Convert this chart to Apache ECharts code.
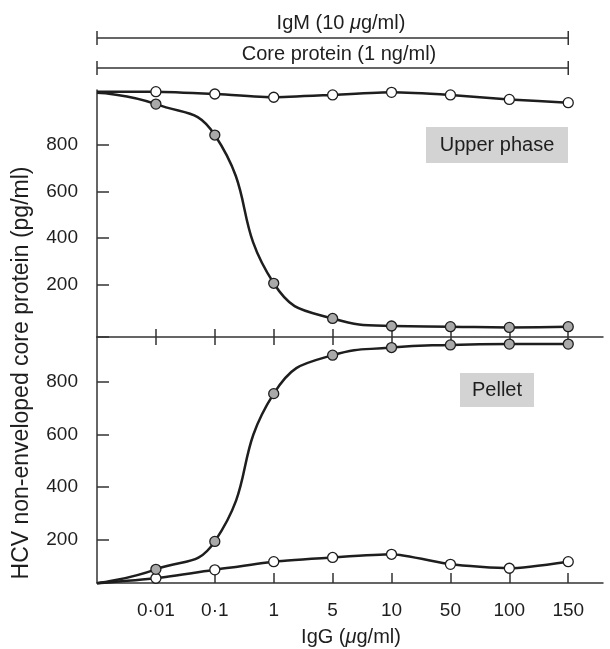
<!DOCTYPE html>
<html>
<head>
<meta charset="utf-8">
<script src="https://cdn.jsdelivr.net/npm/echarts@6/dist/echarts.min.js"></script>
<style>
  html, body { margin: 0; padding: 0; background: #fff; }
  #chart { width: 610px; height: 649px; }
</style>
</head>
<body>
<div id="chart"></div>
<script>
// IgG concentrations (first point = no IgG, unlabelled)
const categories = ['0', '0·01', '0·1', '1', '5', '10', '50', '100', '150'];
// upper phase (pg/ml)
const upperOpen = [1025, 1025, 1015, 1001, 1011, 1022, 1011, 992, 978];
const upperFilled = [1020, 972, 840, 208, 58, 26, 23, 20, 23];
// pellet (pg/ml)
const pelletFilled = [35, 88, 194, 755, 901, 930, 940, 943, 943];
const pelletOpen = [35, 54, 86, 117, 133, 145, 107, 92, 117];
const yTicks = [200, 400, 600, 800];
const xTicks = [1, 2, 3, 4, 5, 6, 7, 8];

const FONT = '"Liberation Sans", Arial, Helvetica, sans-serif';
const INK = '#1e1e1e';
const AXIS = '#333';

const chart = echarts.init(document.getElementById('chart'));

function pts(arr) {
    return arr.map(function (v, i) {
        if (i === 0) return { value: [i, v], symbol: 'none' };
        return [i, v];
    });
}

function mkSeries(arr, grid, filled, smooth) {
    return {
        type: 'line',
        xAxisIndex: grid === 0 ? 0 : 1,
        yAxisIndex: grid,
        data: pts(arr),
        smooth: smooth,
        clip: false,
        symbol: 'circle',
        symbolSize: 10,
        lineStyle: { color: INK, width: 2.5 },
        itemStyle: { color: filled ? '#a9a9a9' : '#ffffff', borderColor: INK, borderWidth: 1.3 },
        z: 3
    };
}

function xAxisOf(grid, pos, len, showLine) {
    return {
        type: 'value', min: 0, max: 8.59,
        gridIndex: grid, position: pos,
        splitLine: { show: false },
        axisLine: { show: showLine, onZero: false, lineStyle: { color: AXIS, width: 1.5 } },
        axisTick: { inside: true, length: len, customValues: xTicks, lineStyle: { color: AXIS, width: 1.5 } },
        axisLabel: { show: false }
    };
}

function yAxisOf(grid, min, max, tickVals) {
    return {
        type: 'value', gridIndex: grid, min: min, max: max,
        splitLine: { show: false },
        axisLine: { show: true, onZero: false, lineStyle: { color: AXIS, width: 1.5 } },
        axisTick: { inside: true, length: 12, customValues: tickVals, lineStyle: { color: AXIS, width: 1.5 } },
        axisLabel: { customValues: yTicks, fontSize: 19, fontFamily: FONT, color: INK, margin: 19 }
    };
}

const bottomAxis = xAxisOf(1, 'bottom', 10, true);
bottomAxis.axisLabel = {
    show: true, customValues: xTicks, fontSize: 19, fontFamily: FONT, color: INK, margin: 18,
    formatter: function (v) { return categories[Math.round(v)]; }
};

chart.setOption({
    animation: false,
    grid: [
        { left: 97, top: 90, width: 506, height: 247 },
        { left: 97, top: 337, width: 506, height: 246 }
    ],
    xAxis: [
        xAxisOf(0, 'bottom', 8, true),
        bottomAxis,
        xAxisOf(1, 'top', 8, false)
    ],
    yAxis: [
        yAxisOf(0, -21, 1032, [-21].concat(yTicks)),
        yAxisOf(1, 36, 970, yTicks)
    ],
    series: [
        mkSeries(upperOpen, 0, false, 0.15),
        mkSeries(upperFilled, 0, true, 0.5),
        mkSeries(pelletOpen, 1, false, 0.2),
        mkSeries(pelletFilled, 1, true, 0.5)
    ]
});

// annotations placed from the axis scale
const x0 = chart.convertToPixel({ xAxisIndex: 0 }, 0);
const x8 = chart.convertToPixel({ xAxisIndex: 0 }, 8);
const italicMu = { i: { fontStyle: 'italic', fontSize: 20, fontFamily: FONT } };

function bracket(y) {
    return [
        { type: 'line', shape: { x1: x0, y1: y, x2: x8, y2: y }, style: { stroke: AXIS, lineWidth: 1.5 } },
        { type: 'line', shape: { x1: x0, y1: y - 7, x2: x0, y2: y + 7 }, style: { stroke: AXIS, lineWidth: 1.5 } },
        { type: 'line', shape: { x1: x8, y1: y - 7, x2: x8, y2: y + 7 }, style: { stroke: AXIS, lineWidth: 1.5 } }
    ];
}

function label(text, x, y, extra) {
    return {
        type: 'text', x: x, y: y,
        style: Object.assign({
            text: text, fill: INK, fontSize: 20, fontFamily: FONT,
            align: 'center', verticalAlign: 'middle', rich: italicMu
        }, extra || {})
    };
}

chart.setOption({
    graphic: [].concat(
        bracket(38),
        bracket(68),
        [
            label('IgM (10 {i|μ}g/ml)', 341, 23),
            label('Core protein (1 ng/ml)', 339, 54),
            label('IgG ({i|μ}g/ml)', 351, 637),
            {
                type: 'text', x: 22, y: 373, rotation: Math.PI / 2,
                style: { text: 'HCV non-enveloped core protein (pg/ml)', fill: INK, fontSize: 23,
                    fontFamily: FONT, align: 'center', verticalAlign: 'middle' }
            },
            { type: 'rect', shape: { x: 426, y: 127, width: 142, height: 36 }, style: { fill: '#d3d3d3' } },
            label('Upper phase', 497, 145),
            { type: 'rect', shape: { x: 460, y: 373, width: 74, height: 34 }, style: { fill: '#d3d3d3' } },
            label('Pellet', 497, 390)
        ]
    )
});

window.addEventListener('resize', function () {
    chart.resize();
});
</script>
</body>
</html>
